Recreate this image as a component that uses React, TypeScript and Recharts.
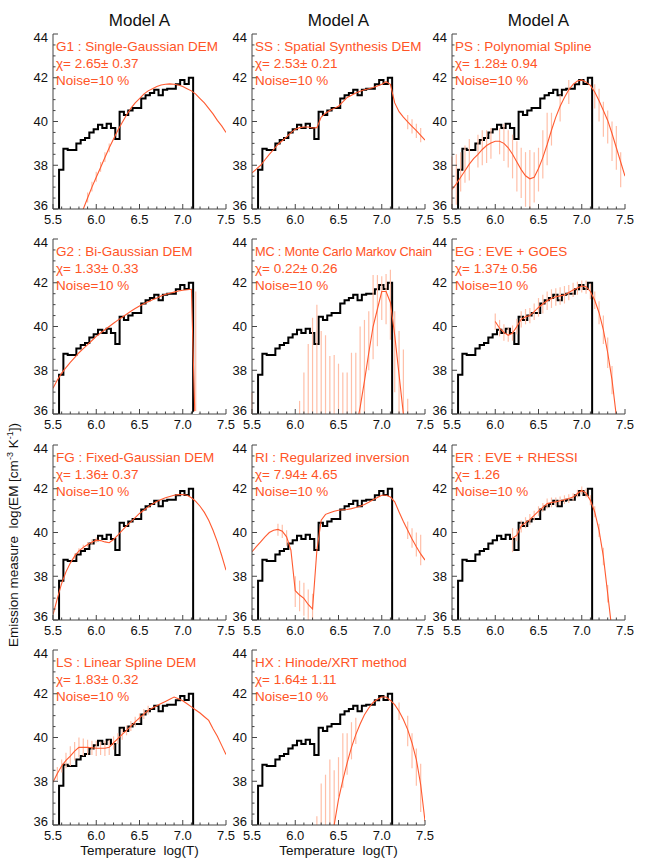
import React from "react";
import { ErrorBar, Line, LineChart, XAxis, YAxis } from "recharts";

// temperature grid for the fitted curves (log T)
const logT = [
    5.5, 5.55, 5.6, 5.65, 5.7, 5.75, 5.8, 5.85, 5.9, 5.95, 6.0, 6.05, 6.1, 6.15, 6.2, 6.25, 6.3, 6.35, 6.4, 6.45, 6.5,
    6.55, 6.6, 6.65, 6.7, 6.75, 6.8, 6.85, 6.9, 6.95, 7.0, 7.05, 7.1, 7.15, 7.2, 7.25, 7.3, 7.35, 7.4, 7.45, 7.5,
];

// model A (black histogram): left bin edges and log EM
const modelT = [
    5.57, 5.62, 5.67, 5.72, 5.77, 5.82, 5.87, 5.92, 5.97, 6.02, 6.07, 6.12, 6.17, 6.22, 6.27, 6.32, 6.37, 6.42, 6.47,
    6.52, 6.57, 6.62, 6.67, 6.72, 6.77, 6.82, 6.87, 6.92, 6.97, 7.02, 7.07,
];
const modelEM = [
    37.8, 38.75, 38.7, 38.7, 39.0, 39.15, 39.25, 39.5, 39.65, 39.85, 39.7, 39.9, 39.7, 39.2, 40.45, 40.3, 40.5, 40.62,
    40.62, 41.05, 41.2, 41.3, 41.45, 41.2, 41.45, 41.5, 41.5, 41.7, 41.9, 41.72, 42.0,
];
const modelTEnd = 7.12;

const xTicks = [5.5, 5.6, 5.7, 5.8, 5.9, 6.0, 6.1, 6.2, 6.3, 6.4, 6.5, 6.6, 6.7, 6.8, 6.9, 7.0, 7.1, 7.2, 7.3, 7.4, 7.5];
const yTicks = [36, 36.5, 37, 37.5, 38, 38.5, 39, 39.5, 40, 40.5, 41, 41.5, 42, 42.5, 43, 43.5, 44];

// reconstructed DEMs on the logT grid
const g1EM = [
    null, null, null, null, null, null, 35.5, 36.0, 36.5, 37.0, 37.45, 37.9, 38.35, 38.8, 39.2, 39.6, 39.95, 40.3, 40.6,
    40.85, 41.05, 41.25, 41.4, 41.5, 41.6, 41.67, 41.7, 41.72, 41.7, 41.67, 41.6, 41.5, 41.4, 41.25, 41.05, 40.85, 40.6,
    40.35, 40.05, 39.8, 39.5,
];
const ssEM = [
    37.65, 37.82, 38.0, 38.25, 38.5, 38.72, 38.95, 39.12, 39.3, 39.48, 39.65, 39.72, 39.75, 39.75, 39.7, 39.72, 40.2,
    40.38, 40.5, 40.6, 40.7, 40.9, 41.1, 41.2, 41.3, 41.38, 41.45, 41.5, 41.55, 41.62, 41.7, 41.82, 41.7, 40.85, 40.45,
    40.2, 39.98, 39.78, 39.58, 39.37, 39.15,
];
const psEM = [
    36.9, 37.15, 37.45, 37.75, 38.05, 38.3, 38.5, 38.72, 38.9, 39.02, 39.1, 39.1, 39.0, 38.8, 38.5, 38.15, 37.8, 37.52,
    37.38, 37.45, 37.85, 38.35, 38.95, 39.6, 40.2, 40.7, 41.1, 41.45, 41.7, 41.85, 41.9, 41.8, 41.65, 41.35, 40.95, 40.5,
    40.05, 39.45, 38.8, 38.15, 37.5,
];
const g2EM = [
    37.18, 37.55, 37.87, 38.12, 38.36, 38.58, 38.8, 38.99, 39.17, 39.36, 39.55, 39.7, 39.85, 40.0, 40.15, 40.29, 40.42,
    40.56, 40.7, 40.82, 40.94, 41.04, 41.13, 41.22, 41.3, 41.39, 41.47, 41.52, 41.57, 41.62, 41.66, 41.68, 41.7, 34.5,
    null, null, null, null, null, null, null,
];
const mcEM = [
    null, null, null, null, null, null, null, null, null, null, null, null, null, null, null, null, null, null, null,
    null, null, null, null, null, 35.3, 36.3, 37.5, 38.8, 40.0, 40.8, 41.6, 41.6, 41.1, 39.6, 37.8, 36.0, 34.8, null,
    null, null, null,
];
const egEM = [
    null, null, null, null, null, null, null, null, null, null, 40.23, 39.92, 39.73, 39.6, 39.7, 40.0, 40.33, 40.45,
    40.5, 40.68, 40.87, 41.03, 41.18, 41.28, 41.36, 41.4, 41.44, 41.55, 41.67, 41.76, 41.85, 41.82, 41.6, 41.2, 40.63,
    39.85, 38.8, 37.56, 35.9, null, null,
];
const fgEM = [
    36.25, 36.98, 37.67, 38.2, 38.6, 38.92, 39.16, 39.32, 39.45, 39.56, 39.65, 39.63, 39.57, 39.53, 39.68, 39.88, 40.1,
    40.3, 40.49, 40.68, 40.87, 41.02, 41.17, 41.3, 41.42, 41.51, 41.59, 41.65, 41.7, 41.73, 41.74, 41.7, 41.59, 41.42,
    41.2, 40.92, 40.56, 40.1, 39.57, 38.95, 38.28,
];
const riEM = [
    39.12, 39.35, 39.57, 39.8, 40.0, 40.1, 40.14, 40.06, 39.8, 39.19, 37.34, 37.14, 36.99, 36.71, 36.5, 39.19, 40.56,
    40.83, 40.9, 40.97, 41.02, 41.04, 41.05, 41.09, 41.14, 41.2, 41.28, 41.38, 41.5, 41.6, 41.7, 41.7, 41.62, 41.4,
    40.94, 40.5, 40.1, 39.7, 39.35, 39.02, 38.74,
];
const erEM = [
    null, null, null, null, null, null, null, null, null, null, null, null, null, null, 39.73, 39.88, 40.29, 40.45,
    40.59, 40.78, 40.98, 41.15, 41.32, 41.37, 41.4, 41.45, 41.5, 41.55, 41.62, 41.78, 41.92, 41.8, 41.47, 40.94, 40.1,
    38.9, 37.2, 35.5, null, null, null,
];
const lsEM = [
    37.95, 38.35, 38.7, 38.95, 39.15, 39.38, 39.55, 39.55, 39.55, 39.53, 39.51, 39.51, 39.51, 39.55, 39.76, 39.95,
    40.14, 40.33, 40.52, 40.71, 40.9, 41.07, 41.24, 41.35, 41.45, 41.55, 41.65, 41.75, 41.85, 41.77, 41.68, 41.54, 41.4,
    41.26, 41.12, 40.95, 40.78, 40.4, 40.06, 39.64, 39.22,
];
const hxEM = [
    null, null, null, null, null, null, null, null, null, null, null, null, null, null, null, null, null, null, 34.7,
    36.0, 37.17, 38.05, 38.84, 39.55, 40.13, 40.62, 41.04, 41.35, 41.6, 41.75, 41.85, 41.85, 41.7, 41.5, 41.2, 40.82,
    40.36, 39.75, 38.99, 37.85, 36.17,
];

// uncertainty bars: temperature, lower and upper log EM
const g1ErrT = [5.9, 5.95, 6.0, 6.05, 6.1, 6.15];
const g1ErrLo = [36.3, 36.8, 37.25, 37.7, 38.15, 38.6];
const g1ErrHi = [36.75, 37.25, 37.7, 38.15, 38.6, 39.0];

const ssErrT = [7.3, 7.35, 7.4, 7.45];
const ssErrLo = [39.65, 39.45, 39.25, 39.05];
const ssErrHi = [40.3, 40.1, 39.9, 39.7];

const psErrT = [
    5.5, 5.55, 5.6, 5.65, 5.7, 5.8, 5.85, 5.9, 5.95, 6.05, 6.1, 6.15, 6.2, 6.25, 6.3, 6.35, 6.4, 6.45, 6.5, 6.55, 6.6,
    6.65, 6.75, 6.85, 7.15, 7.2, 7.25, 7.3, 7.35, 7.4, 7.45,
];
const psErrLo = [
    36.0, 36.2, 36.8, 37.2, 37.3, 37.9, 38.0, 38.1, 38.3, 38.5, 38.2, 37.9, 37.4, 36.8, 36.5, 36.1, 36.0, 36.3, 36.8,
    37.4, 38.0, 38.9, 40.0, 40.8, 40.6, 40.0, 39.3, 39.0, 38.2, 37.8, 37.0,
];
const psErrHi = [
    38.4, 38.5, 38.6, 38.9, 39.2, 39.4, 39.6, 39.6, 39.7, 39.7, 39.9, 39.6, 39.4, 39.1, 38.8, 38.6, 38.7, 38.6, 38.8,
    39.6, 40.4, 40.4, 41.2, 41.9, 41.7, 41.5, 40.9, 40.5, 40.0, 39.8, 38.6,
];

const g2ErrT = [7.15];
const g2ErrLo = [36.0];
const g2ErrHi = [41.6];

const mcErrT = [
    5.5, 6.05, 6.1, 6.15, 6.2, 6.25, 6.3, 6.35, 6.4, 6.45, 6.5, 6.55, 6.6, 6.65, 6.7, 6.75, 6.8, 6.85, 6.9, 6.95, 7.0,
    7.05, 7.1, 7.15, 7.2, 7.25, 7.3,
];
const mcErrLo = [
    36, 36, 36, 36, 36, 36, 36, 36, 36, 36, 36, 36, 36, 36, 36, 36, 36, 38.0, 38.5, 39.1, 40.3, 40.1, 39.4, 37.0, 36,
    36, 36,
];
const mcErrHi = [
    37.0, 36.6, 37.9, 39.2, 40.4, 41.0, 39.8, 39.6, 38.65, 38.7, 38.3, 37.9, 37.9, 38.8, 38.8, 40.0, 40.3, 40.7, 42.35,
    42.35, 42.3, 42.4, 42.6, 40.7, 39.8, 38.95, 36.7,
];

const egErrT = [
    6.0, 6.05, 6.1, 6.15, 6.2, 6.25, 6.3, 6.35, 6.4, 6.45, 6.5, 6.55, 6.6, 6.65, 6.7, 6.75, 6.8, 6.85, 6.9, 6.95, 7.0,
    7.05, 7.1, 7.15, 7.2, 7.25, 7.3, 7.35,
];
const egErrLo = [
    39.85, 39.55, 39.35, 39.3, 39.35, 39.65, 39.95, 40.1, 40.15, 40.3, 40.45, 40.6, 40.75, 40.85, 40.95, 41.0, 41.05,
    41.2, 41.35, 41.45, 41.55, 41.5, 41.25, 40.8, 40.1, 39.2, 38.1, 36.9,
];
const egErrHi = [
    40.6, 40.3, 40.1, 39.95, 40.05, 40.35, 40.7, 40.8, 40.85, 41.05, 41.3, 41.45, 41.6, 41.7, 41.75, 41.8, 41.85, 41.9,
    42.0, 42.05, 42.1, 42.1, 41.95, 41.6, 41.15, 40.5, 39.5, 38.2,
];

const fgErrT = [5.75, 5.8, 5.85, 5.9, 5.95, 6.0];
const fgErrLo = [38.8, 39.04, 39.2, 39.33, 39.44, 39.53];
const fgErrHi = [39.04, 39.28, 39.44, 39.57, 39.68, 39.77];

const riErrT = [5.8, 5.85, 5.9, 6.0, 6.05, 6.1, 6.15, 6.2, 7.3, 7.35, 7.4, 7.45];
const riErrLo = [39.85, 39.75, 39.4, 36.6, 36.4, 36.2, 36.0, 36.0, 39.7, 39.3, 38.9, 38.5];
const riErrHi = [40.4, 40.35, 40.1, 38.0, 37.8, 37.7, 37.4, 37.2, 40.5, 40.2, 40.0, 39.9];

const erErrT = [
    6.2, 6.25, 6.3, 6.35, 6.4, 6.45, 6.5, 6.55, 6.6, 6.65, 6.7, 6.75, 6.8, 6.85, 6.9, 6.95, 7.0, 7.05, 7.1, 7.15, 7.2,
    7.25, 7.3,
];
const erErrLo = [
    39.1, 39.6, 40.0, 40.2, 40.35, 40.55, 40.75, 40.95, 41.1, 41.15, 41.2, 41.25, 41.3, 41.35, 41.45, 41.6, 41.75, 41.6,
    41.25, 40.7, 39.8, 38.5, 36.8,
];
const erErrHi = [
    40.2, 40.15, 40.55, 40.7, 40.85, 41.0, 41.2, 41.35, 41.55, 41.6, 41.6, 41.65, 41.7, 41.75, 41.8, 41.95, 42.1, 42.0,
    41.7, 41.2, 40.4, 39.3, 37.6,
];

const lsErrT = [
    5.55, 5.6, 5.65, 5.7, 5.75, 5.8, 5.85, 5.9, 5.95, 6.0, 6.05, 6.1, 6.15, 6.2, 6.25, 6.3, 6.35, 6.4, 6.45, 6.5, 6.55,
    6.6,
];
const lsErrLo = [
    38.05, 38.4, 38.6, 38.7, 38.95, 39.1, 39.15, 39.2, 39.2, 39.15, 39.2, 39.15, 39.2, 39.45, 39.7, 39.9, 40.1, 40.3,
    40.5, 40.7, 40.85, 41.05,
];
const lsErrHi = [
    38.65, 39.0, 39.3, 39.6, 39.8, 40.0, 39.95, 39.9, 39.85, 39.85, 39.8, 39.85, 39.9, 40.05, 40.2, 40.4, 40.55, 40.75,
    40.95, 41.1, 41.3, 41.45,
];

const hxErrT = [6.25, 6.3, 6.35, 6.4, 6.45, 6.5, 6.55, 6.6, 6.65, 6.7, 7.2, 7.3, 7.35, 7.4, 7.45];
const hxErrLo = [36.0, 36.0, 36.0, 36.0, 36.0, 37.3, 37.7, 38.3, 39.0, 39.7, 40.8, 39.6, 38.6, 37.8, 36.6];
const hxErrHi = [36.4, 37.9, 38.3, 39.0, 38.5, 39.1, 40.2, 40.2, 40.7, 40.9, 41.6, 41.0, 40.2, 39.5, 38.8];

const ORANGE = "#ff5426";
const CURVE = "#ff5a30";
const ERR = "#ffbfa8";
const AXIS = "#444";
const FONT = '"Liberation Sans", Arial, Helvetica, sans-serif';

const colLeft = [53, 252, 452];
const rowTop = [34, 239, 445, 650];
const BOX_W = 173;
const BOX_H = 175;

const panels = [
    { row: 0, col: 0, name: "G1 : Single-Gaussian DEM", chi: "2.65± 0.37", em: g1EM, eT: g1ErrT, eLo: g1ErrLo, eHi: g1ErrHi },
    { row: 0, col: 1, name: "SS : Spatial Synthesis DEM", chi: "2.53± 0.21", em: ssEM, eT: ssErrT, eLo: ssErrLo, eHi: ssErrHi },
    { row: 0, col: 2, name: "PS : Polynomial Spline", chi: "1.28± 0.94", em: psEM, eT: psErrT, eLo: psErrLo, eHi: psErrHi },
    { row: 1, col: 0, name: "G2 : Bi-Gaussian DEM", chi: "1.33± 0.33", em: g2EM, eT: g2ErrT, eLo: g2ErrLo, eHi: g2ErrHi },
    { row: 1, col: 1, name: "MC : Monte Carlo Markov Chain", chi: "0.22± 0.26", em: mcEM, eT: mcErrT, eLo: mcErrLo, eHi: mcErrHi },
    { row: 1, col: 2, name: "EG : EVE + GOES", chi: "1.37± 0.56", em: egEM, eT: egErrT, eLo: egErrLo, eHi: egErrHi },
    { row: 2, col: 0, name: "FG : Fixed-Gaussian DEM", chi: "1.36± 0.37", em: fgEM, eT: fgErrT, eLo: fgErrLo, eHi: fgErrHi },
    { row: 2, col: 1, name: "RI : Regularized inversion", chi: "7.94± 4.65", em: riEM, eT: riErrT, eLo: riErrLo, eHi: riErrHi },
    { row: 2, col: 2, name: "ER : EVE + RHESSI", chi: "1.26", em: erEM, eT: erErrT, eLo: erErrLo, eHi: erErrHi },
    { row: 3, col: 0, name: "LS : Linear Spline DEM", chi: "1.83± 0.32", em: lsEM, eT: lsErrT, eLo: lsErrLo, eHi: lsErrHi },
    { row: 3, col: 1, name: "HX : Hinode/XRT method", chi: "1.64± 1.11", em: hxEM, eT: hxErrT, eLo: hxErrLo, eHi: hxErrHi },
];

const stairs = [
    { x: modelT[0], y: 36 },
    ...modelT.map((t, i) => ({ x: t, y: modelEM[i] })),
    { x: modelTEnd, y: modelEM[modelEM.length - 1] },
    { x: modelTEnd, y: 36 },
];

const isMajorX = (v: number) => Math.abs(v * 2 - Math.round(v * 2)) < 1e-6;
const isMajorY = (v: number) => Math.abs(v / 2 - Math.round(v / 2)) < 1e-6;

function BottomTick({ x, y, payload }: any) {
    const v = payload.value;
    const major = isMajorX(v);
    return (
        <g>
            <line x1={x} x2={x} y1={y} y2={y - (major ? 5 : 2.5)} stroke={AXIS} />
            {major && (
                <text x={x} y={y + 14.5} textAnchor="middle" fontSize={13} fill="#111">
                    {v.toFixed(1)}
                </text>
            )}
        </g>
    );
}

function TopTick({ x, y, payload }: any) {
    const major = isMajorX(payload.value);
    return <line x1={x} x2={x} y1={y} y2={y + (major ? 5 : 2.5)} stroke={AXIS} />;
}

function LeftTick({ x, y, payload }: any) {
    const v = payload.value;
    const major = isMajorY(v);
    const dy = v === 44 ? 3 : v === 36 ? -4 : 0;
    return (
        <g>
            <line x1={x} x2={x + (major ? 5 : 2.5)} y1={y} y2={y} stroke={AXIS} />
            {major && (
                <text x={x - 5} y={y + 4.6 + dy} textAnchor="end" fontSize={13} fill="#111">
                    {v}
                </text>
            )}
        </g>
    );
}

function RightTick({ x, y, payload }: any) {
    const major = isMajorY(payload.value);
    return <line x1={x} x2={x - (major ? 5 : 2.5)} y1={y} y2={y} stroke={AXIS} />;
}

function Panel({ p }: { p: (typeof panels)[number] }) {
    const left = colLeft[p.col];
    const top = rowTop[p.row];
    const curve = logT.map((t, i) => ({ x: t, y: p.em[i] })).filter((d) => d.y !== null);
    const bars = p.eT.map((t, i) => ({ x: t, y: p.eLo[i], e: [0, p.eHi[i] - p.eLo[i]] }));
    const long = p.name.length > 26;
    return (
        <>
            <div style={{ position: "absolute", left: left - 30, top: top - 10 }}>
                <LineChart width={BOX_W + 40} height={BOX_H + 35} margin={{ top: 10, right: 10, bottom: 0, left: 0 }}>
                    <XAxis
                        type="number"
                        dataKey="x"
                        domain={[5.5, 7.5]}
                        ticks={xTicks}
                        interval={0}
                        allowDataOverflow
                        height={25}
                        tickSize={0}
                        tickMargin={0}
                        tickLine={false}
                        axisLine={{ stroke: AXIS }}
                        tick={BottomTick}
                    />
                    <XAxis
                        xAxisId="top"
                        orientation="top"
                        type="number"
                        dataKey="x"
                        domain={[5.5, 7.5]}
                        ticks={xTicks}
                        interval={0}
                        allowDataOverflow
                        height={0}
                        tickSize={0}
                        tickMargin={0}
                        tickLine={false}
                        axisLine={{ stroke: AXIS }}
                        tick={TopTick}
                    />
                    <YAxis
                        type="number"
                        domain={[36, 44]}
                        ticks={yTicks}
                        interval={0}
                        allowDataOverflow
                        width={30}
                        tickSize={0}
                        tickMargin={0}
                        tickLine={false}
                        axisLine={{ stroke: AXIS }}
                        tick={LeftTick}
                    />
                    <YAxis
                        yAxisId="right"
                        orientation="right"
                        type="number"
                        domain={[36, 44]}
                        ticks={yTicks}
                        interval={0}
                        allowDataOverflow
                        width={0}
                        tickSize={0}
                        tickMargin={0}
                        tickLine={false}
                        axisLine={{ stroke: AXIS }}
                        tick={RightTick}
                    />
                    <Line
                        data={stairs}
                        dataKey="y"
                        type="stepAfter"
                        stroke="#000"
                        strokeWidth={2}
                        dot={false}
                        activeDot={false}
                        isAnimationActive={false}
                    />
                    <Line
                        data={bars}
                        dataKey="y"
                        stroke="none"
                        dot={false}
                        activeDot={false}
                        isAnimationActive={false}
                    >
                        <ErrorBar
                            dataKey="e"
                            direction="y"
                            width={0}
                            stroke={ERR}
                            strokeWidth={1.2}
                            isAnimationActive={false}
                        />
                    </Line>
                    <Line
                        data={curve}
                        dataKey="y"
                        type="linear"
                        stroke={CURVE}
                        strokeWidth={1.1}
                        dot={false}
                        activeDot={false}
                        isAnimationActive={false}
                    />
                </LineChart>
            </div>
            <div
                style={{
                    position: "absolute",
                    left: left + 3,
                    top: top + 4,
                    color: ORANGE,
                    fontSize: 13.5,
                    lineHeight: "17px",
                    whiteSpace: "nowrap",
                }}>
                <div style={long ? { fontSize: 12.8, letterSpacing: "-0.2px" } : undefined}>{p.name}</div>
                <div>χ= {p.chi}</div>
                <div>Noise=10 %</div>
            </div>
        </>
    );
}

export default function App() {
    return (
        <div
            style={{
                position: "absolute",
                left: 0,
                top: 0,
                width: 665,
                height: 865,
                background: "#fff",
                fontFamily: FONT,
                color: "#111",
            }}>
            {colLeft.map((l, i) => (
                <div
                    key={"t" + i}
                    style={{
                        position: "absolute",
                        left: l,
                        width: BOX_W,
                        top: 11,
                        textAlign: "center",
                        fontSize: 17,
                        lineHeight: "20px",
                    }}>
                    Model A
                </div>
            ))}
            {panels.map((p) => (
                <Panel key={p.name} p={p} />
            ))}
            {[0, 1].map((c) => (
                <div
                    key={"x" + c}
                    style={{
                        position: "absolute",
                        left: colLeft[c],
                        width: BOX_W,
                        top: 842,
                        textAlign: "center",
                        fontSize: 13.5,
                        lineHeight: "17px",
                        whiteSpace: "pre",
                    }}>
                    {"Temperature  log(T)"}
                </div>
            ))}
            <div
                style={{
                    position: "absolute",
                    left: 13,
                    top: 535,
                    transform: "translate(-50%, -50%) rotate(-90deg)",
                    fontSize: 13.5,
                    whiteSpace: "pre",
                }}>
                {"Emission measure  log(EM [cm"}
                <sup style={{ fontSize: 9 }}>-3</sup>
                {" K"}
                <sup style={{ fontSize: 9 }}>-1</sup>
                {"])"}
            </div>
        </div>
    );
}
